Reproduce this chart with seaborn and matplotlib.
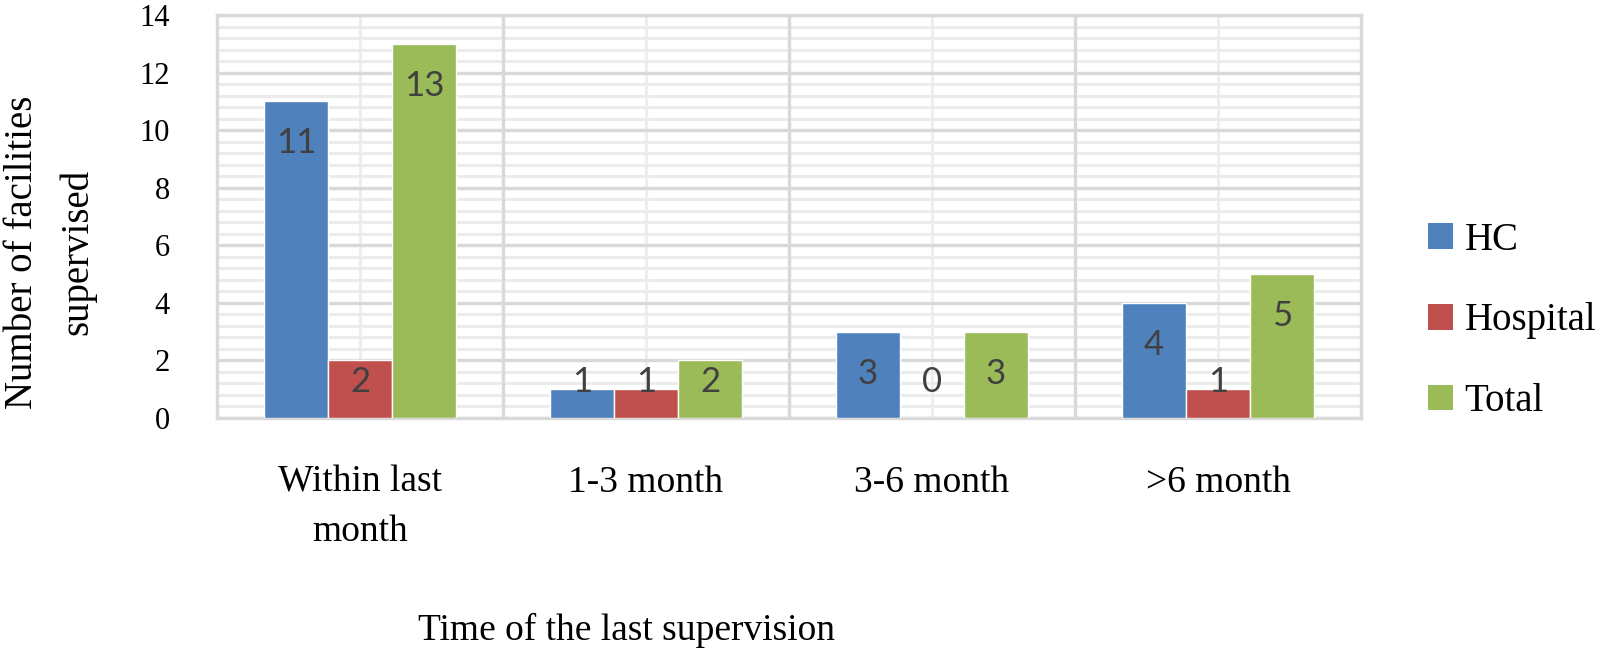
import matplotlib
matplotlib.use("Agg")
import matplotlib.pyplot as plt
from matplotlib.ticker import MultipleLocator
from matplotlib.patches import Patch
import seaborn as sns
import pandas as pd

categories = ["Within last\nmonth", "1-3 month", "3-6 month", ">6 month"]
hc = [11, 1, 3, 4]
hospital = [2, 1, 0, 1]
total = [13, 2, 3, 5]
series_names = ["HC", "Hospital", "Total"]
colors = ["#4F81BD", "#C0504D", "#9BBB59"]
y_ticks = [0, 2, 4, 6, 8, 10, 12, 14]

rows = []
for name, vals in zip(series_names, [hc, hospital, total]):
    for c, v in zip(categories, vals):
        rows.append({"period": c, "count": v, "type": name})
df = pd.DataFrame(rows)

sns.set_theme(style="white")
serif = ["Liberation Serif", "DejaVu Serif"]
plt.rcParams["font.family"] = serif
plt.rcParams["text.color"] = "black"
plt.rcParams["xtick.color"] = "black"
plt.rcParams["ytick.color"] = "black"

fig = plt.figure(figsize=(16, 6.52), dpi=100)
ax = fig.add_axes([217 / 1600, 1 - 418 / 652, (1361 - 217) / 1600, (418 - 15) / 652])

sns.barplot(data=df, x="period", y="count", hue="type", order=categories,
            hue_order=series_names, palette=colors, width=0.672, saturation=1,
            dodge=True, ax=ax, legend=False, zorder=3)

ax.set_ylim(0, 14)
ax.set_xlim(-0.5, len(categories) - 0.5)
ax.yaxis.set_major_locator(MultipleLocator(2))
ax.yaxis.set_minor_locator(MultipleLocator(0.4))
ax.set_yticks(y_ticks)

# gridlines
ax.grid(False)
ax.yaxis.grid(True, which="minor", color="#ececec", linewidth=2.2, zorder=0)
ax.yaxis.grid(True, which="major", color="#d9d9d9", linewidth=2.4, zorder=1)
for i in range(len(categories)):
    ax.axvline(i, color="#eeeeee", linewidth=2.2, zorder=0.5)
for i in range(1, len(categories)):
    ax.axvline(i - 0.5, color="#d9d9d9", linewidth=2.4, zorder=1)
ax.set_axisbelow(True)

for s in ax.spines.values():
    s.set_visible(True)
    s.set_color("#d9d9d9")
    s.set_linewidth(2.4)

ax.tick_params(axis="both", which="both", length=0)
ax.tick_params(axis="y", pad=34, labelsize=22, labelcolor="black")
ax.tick_params(axis="x", pad=34, labelsize=27, labelcolor="black")
for t in ax.get_xticklabels():
    t.set_linespacing(1.55)
ax.set_xlabel("")
ax.set_ylabel("")

# data labels (inside end, clamped near the base for short bars)
for cont in ax.containers:
    for bar in cont:
        h = bar.get_height()
        xc = bar.get_x() + bar.get_width() / 2
        yl = max(h - 1.46, 1.25)
        ax.text(xc, yl, f"{int(round(h))}", ha="center", va="center",
                fontsize=25, color="#404040", family=["Lato", "DejaVu Sans"], zorder=5)

# legend
handles = [Patch(facecolor=c, edgecolor="none") for c in colors]
fig.legend(handles, series_names, loc="center left",
           bbox_to_anchor=(1428 / 1600, 1 - 321 / 652), frameon=False,
           fontsize=28, handlelength=0.64, handleheight=0.64, handletextpad=0.3,
           labelspacing=1.12, borderpad=0, borderaxespad=0)

fig.text(627 / 1600, 1 - 630 / 652, "Time of the last supervision", ha="center",
         va="center", fontsize=27)
fig.text(50 / 1600, 1 - 252 / 652, "Number of facilities\nsupervised", ha="center",
         va="center", rotation=90, fontsize=28, multialignment="center", linespacing=1.62)

fig.savefig("out.png", dpi=100)
